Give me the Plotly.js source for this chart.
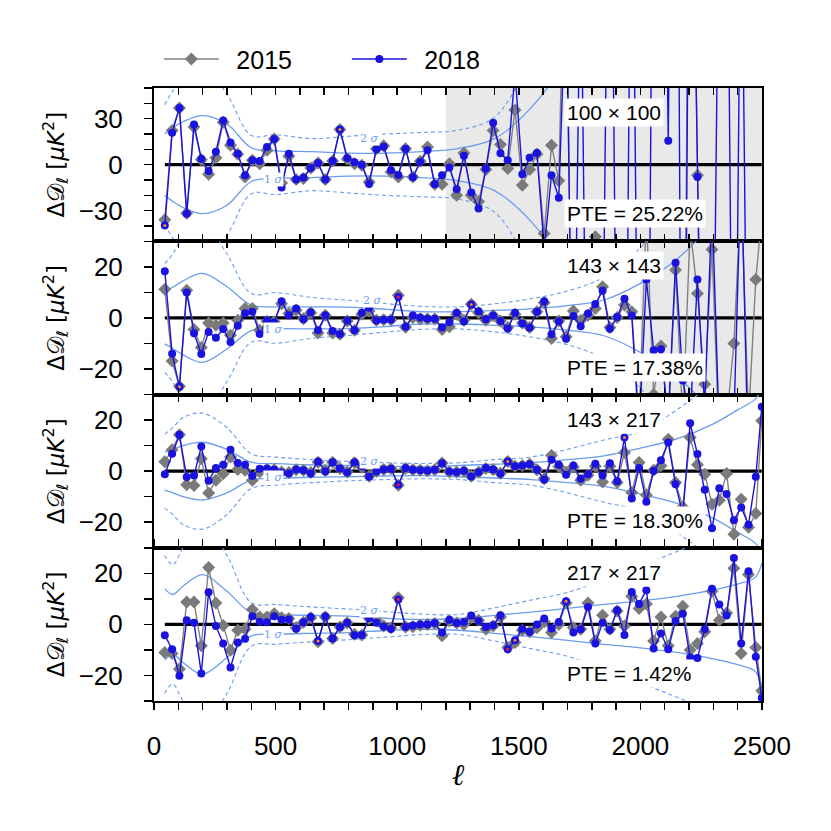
<!DOCTYPE html>
<html>
<head>
<meta charset="utf-8">
<script src="https://cdn.plot.ly/plotly-3.0.1.min.js"></script>
<style>html,body{margin:0;padding:0;background:#fff}#chart{width:831px;height:831px}</style>
</head>
<body>
<div id="chart"></div>
<script>
// multipole bin centres
const ell = [44.5,74.5,104.5,134.5,164.5,194.5,224.5,254.5,284.5,314.5,344.5,374.5,404.5,434.5,464.5,494.5,524.5,554.5,584.5,614.5,644.5,674.5,704.5,734.5,764.5,794.5,824.5,854.5,884.5,914.5,944.5,974.5,1004.5,1034.5,1064.5,1094.5,1124.5,1154.5,1184.5,1214.5,1244.5,1274.5,1304.5,1334.5,1364.5,1394.5,1424.5,1454.5,1484.5,1514.5,1544.5,1574.5,1604.5,1634.5,1664.5,1694.5,1724.5,1754.5,1784.5,1814.5,1844.5,1874.5,1904.5,1934.5,1964.5,1994.5,2024.5,2054.5,2084.5,2114.5,2144.5,2174.5,2204.5,2234.5,2264.5,2294.5,2324.5,2354.5,2384.5,2414.5,2444.5,2474.5,2499];

// 100 x 100
const d2018_100 = [-39.8,20.8,37,-32,26.2,3.9,-4.1,8.4,28.8,14.5,7.1,-6.9,2.8,2.4,11.5,16.7,-15,7.1,-9.7,-8.4,-2.2,1.1,-9.7,2.4,22.9,4.3,1.5,0,-12.6,10,11.7,-3.7,-6.7,10.4,-8.2,1.7,9.3,-12.8,-6.9,-1.9,-16,5.8,-18.2,-28.6,-2.6,27.3,7.4,2.8,60,-6.3,4.5,7.6,-55,-6.9,-21.6,120,-200,150,-250,-300,-150,300,-200,-300,250,-250,-400,300,400,15.6,500,-400,300,-8,-300,-250,200,250,-300,200,-250,-300,-200];
const d2015_100 = [-36,22.3,37,-31.8,24.5,3.2,-6.3,4.5,27.7,12.6,6.7,-8,2.8,0.6,9.3,16.7,-12,5.4,-9.7,-9,-2.2,1.1,-9.7,2.4,22.9,3.7,0.6,-0.4,-11.3,10.4,12.3,-4.8,-8,10.4,-8,2.2,11.5,-12.8,-12.8,0.6,-20,7.6,-20,-24,-3.2,22.3,13.2,-2.6,35.7,-13.4,-3.2,7,-45,12.6,-10.6,200,-300,-300,-200,-47,-200,-250,-300,-300,-300,-250,-300,-300,-300,-300,-300,-300,300,-7,-300,-300,-300,-300,-300,-300,-300,-300,-300];
// 143 x 143
const d2018_143 = [18.3,-14,-27,9.9,-6,-14.1,-5.5,-7.8,-4.4,-9.4,-3.1,1.8,2.4,-6.3,-1,-1.8,6.5,1,3.7,-0.5,2.2,-4.8,1,-5.1,-6.4,-1,-4.8,2,4,-1,-0.7,-0.7,8.2,-3.5,0.9,0.1,-0.3,-0.3,-3.8,-1.7,2,-1.4,5.2,2.6,-0.5,0.9,-1.2,-4.2,2,-2.2,-3.9,2.4,6.5,-6.4,-1.3,-8.2,0.7,-3.3,1.7,5.4,10.6,-4.3,0.3,7.5,0.9,-45,15,-12.7,-12.3,-40,21.6,-24.5,-40,15,-35,45,-45,-40,-40,60,-60,-50,-40];
const d2015_143 = [11.2,-16.9,-26.8,10.8,-4.6,-11.6,-2,-2.9,-2,-6.8,-0.9,3.7,3.7,-4.8,-1.3,-1.5,5.5,1.7,3,-0.3,2,-5.9,1,-5.9,-6.4,-1.2,-4.8,1.4,2.7,-0.9,-0.7,-0.7,8.9,-3.7,0.1,-0.4,-0.4,-0.4,-4.6,-3.5,1.4,-0.9,5.3,2,-0.9,0.9,-1.2,-3.8,1.4,-2,-3.8,2.4,5.9,-8.1,-1.2,-7.4,2.7,-1,1,3.7,12.2,-3.8,0.1,5,2.4,-40,40,-30,-11,-40,18.7,-40,35,9.5,-26,26.8,-50,-40,-10,50,-40,15,40];
// 143 x 217
const d2018_217 = [-1.2,6.8,14.2,-2.3,-1.7,9.6,-3.8,1.2,2.5,8.4,3.2,2.5,-1.9,0.9,1,0.5,-0.5,-0.9,0.6,0.3,-0.9,3.8,-0.1,3.5,1,-0.5,3.5,1.9,-2.2,-0.1,0.6,0.9,-5.3,1.2,0.5,0.3,0.1,0.5,3.1,-0.1,-0.4,0.1,-2.1,-0.4,1.2,0.6,-1,3.8,1.9,2.2,2.7,0.5,-3.4,4.5,2.5,-1.4,2.2,-3,-1.2,2.9,-1.7,3.1,-4,13.2,-10.7,1.2,-12,0.1,4.3,11.2,-5.1,-17,18.7,6.7,-7.3,-22.4,-6.7,-9,-19.2,-14.2,-21,-2.2,25.2];
const d2015_217 = [3.7,8.4,14.2,-5.3,-5.6,4.8,-8.6,-3.6,-1,5.5,0.6,0.3,-3.6,-0.3,0.5,0.5,-0.3,-0.5,0.5,0.3,-0.5,3.5,0.2,3.5,1,-0.3,3.3,1.5,-2,0,0.6,0.9,-5.5,1,0.5,0.3,0.1,0.5,3.2,-0.3,-0.3,0,-2,-0.4,1,0.5,-0.8,3.8,1.9,2.2,2.7,0.5,-3,6.1,1.8,-0.4,1.6,-3.6,-1.6,1.9,-4.3,1.9,-4.5,7.3,-8.4,3.4,-9.3,0.3,2.1,12.5,-4.5,-14,13.2,2.5,-1.2,-13,-11.4,-0.9,-24.7,-11,-22,-16.6,19.7];
// 217 x 217
const d2018_2217 = [-4.3,-9.7,-20.1,1.6,0.6,-19.2,12.6,-0.6,-7.5,-16.9,-7.1,-5.6,3.2,1,0.8,3.2,1.8,1.9,-1.7,0.8,2.9,-6.5,3.2,-5.5,-1,0.6,-4.3,-4.2,2.5,0.6,-0.8,-1.8,9.7,-1,-0.4,0,0,0.5,-3.2,1.8,0.5,0.9,3.5,1.3,-1,-0.3,3.6,-9.7,-6.2,-1.7,-3,0,2.3,-1.6,0.9,9.1,-3.2,-1.9,6.8,-7.5,0.6,-2.2,5.5,-4.2,12.7,8,13.4,-9.4,-3.6,-9.7,1.3,4.2,-13,-13.2,-1.9,13.9,7.8,3.5,26,-7.5,20.8,-12.7,-28.8];
const d2015_2217 = [-11,-11.4,-17.5,8.8,8.8,-8.4,22.3,8.4,-0.4,-10.1,-2.3,-1.9,5.8,2.9,2.9,4.2,2.6,2.3,-1.3,0.8,2.6,-6.8,2.9,-5.5,-1,0.6,-3.9,-4.2,2.3,1.6,-0.6,-1.3,10.4,-1,-0.9,-0.3,0,0.3,-4.5,1.3,0.5,0,2.6,1.6,-1.9,-0.6,2.9,-9.1,-7.1,-2.3,-2.9,-1.3,1,-3.2,0,8.4,-1.3,-1.9,8.4,-6.5,3.6,-1.9,5.2,-0.6,11,6.2,8,-6.5,2.9,-8.4,3.2,7.1,-10,-7.5,-2.9,13,1.6,4.5,22,-11.4,19.5,-9.1,-26];

// highlighted bins (index into ell)
const hiOrange = [[0,24],[2,42],[47,63],[21,48,55]];
const hiRed = [[],[32],[32],[32,47]];

// 1-sigma / 2-sigma envelopes
const sigEll = [44,77,120,200,300,400,500,650,800,950,1100,1250,1400,1550,1700,1850,2000,2150,2300,2400,2470,2500];
const sig1_100 = [20,24,28,32,26.5,11,9,8.5,7.5,7.5,8.5,10.5,17,37,70,120,190,290,420,550,640,700];
const sig2_100 = [39,48,56,64,46,19,19.5,17,18.5,20,21,22.5,31,70,130,220,350,500,700,850,950,1000];
const sig1_143 = [10.2,12,14.5,17.4,12.2,5,4.3,4.3,4.2,3.4,2.4,2.4,2.9,3.5,4.8,7,13.5,23,38,55,68,80];
const sig2_143 = [21.3,25,32,38,25,9.5,9.9,8,6.9,5.6,4.5,4.3,5.5,7.5,10.5,16,27.5,45,70,95,115,130];
const sig1_217 = [7.4,8.5,10,11.3,8.5,3.5,2.9,2.4,2.2,1.9,1.8,2.2,2.7,3.3,4.5,6,9,12.6,18.5,24,28,32];
const sig2_217 = [14.5,17,21,22.7,17,6.8,5.5,4.5,3.8,3.3,3,3.3,4.5,5.5,8.5,12.2,15.5,24,35,45,52,58];
const sig1_2217 = [14,11.7,15,19.5,13,4.5,3.9,3.5,3.2,2.4,1.9,2.3,3.5,4.8,6.3,7.8,9.2,11,13.5,15.8,18.2,24];
const sig2_2217 = [27,23.4,30,40,27,8.5,7.8,6.8,6,5,4,3.9,6.5,9.5,12.5,17.5,23,28.5,35,42,48,55];

const seriesNames = ['\u20022015', '\u20022018'];
const panelLabels = ['100 × 100','143 × 143','143 × 217','217 × 217'];
const pteLabels = ['PTE = 25.22%','PTE = 17.38%','PTE = 18.30%','PTE = 1.42%'];
const maskFrom = [1200, 2000, null, null];
const yTicks = [[-30,0,30],[-20,0,20],[-20,0,20],[-20,0,20]];
const yRanges = [[-50,50],[-30,30],[-30,30],[-30,30]];

const panels = [
  {b:d2018_100,g:d2015_100,s1:sig1_100,s2:sig2_100},
  {b:d2018_143,g:d2015_143,s1:sig1_143,s2:sig2_143},
  {b:d2018_217,g:d2015_217,s1:sig1_217,s2:sig2_217},
  {b:d2018_2217,g:d2015_2217,s1:sig1_2217,s2:sig2_2217}
];

const SIGC = '#6a9cf0';
const BLUE = '#1a12de';
const GREY = '#808080';
const FONT = 'Liberation Sans, Arial, sans-serif';

const traces = [];
const annotations = [];
const shapes = [];
const layout = {
  width: 831, height: 831,
  margin: {l:154, r:69, t:88, b:130},
  paper_bgcolor: '#fff', plot_bgcolor: '#fff',
  font: {family: FONT, color: '#000'},
  showlegend: true,
  legend: {orientation:'h', x:0.008, xanchor:'left', y:1.047, yanchor:'middle',
           font:{size:25, family:FONT}, bgcolor:'rgba(0,0,0,0)',
           entrywidth:118, entrywidthmode:'pixels', itemwidth:55},
};

panels.forEach((p, k) => {
  const n = k + 1;
  const xa = 'x' + (n === 1 ? '' : n);
  const ya = 'y' + (n === 1 ? '' : n);
  const sigLine = (vals, sign, dash, w) => ({
    x: sigEll, y: vals.map(v => sign * v), xaxis: xa, yaxis: ya, mode: 'lines',
    line: {color: SIGC, width: w, dash: dash, shape: 'spline', smoothing: 1},
    hoverinfo: 'skip', showlegend: false
  });
  traces.push(sigLine(p.s2, 1, '4px,3px', 1.1));
  traces.push(sigLine(p.s2, -1, '4px,3px', 1.1));
  traces.push(sigLine(p.s1, 1, 'solid', 1.3));
  traces.push(sigLine(p.s1, -1, 'solid', 1.3));
  // zero reference
  traces.push({x: ell, y: ell.map(() => 0), xaxis: xa, yaxis: ya, mode: 'lines',
    line: {color: '#000', width: 3.2}, hoverinfo: 'skip', showlegend: false});
  traces.push({x: ell, y: p.g, xaxis: xa, yaxis: ya, mode: 'lines+markers', name: seriesNames[0],
    line: {color: GREY, width: 1.4}, marker: {symbol: 'diamond', size: 10, color: '#7a7a7a'},
    showlegend: n === 1, legendrank: 1});
  traces.push({x: ell, y: p.b, xaxis: xa, yaxis: ya, mode: 'lines+markers', name: seriesNames[1],
    line: {color: BLUE, width: 1.4}, marker: {symbol: 'circle', size: 8, color: BLUE},
    showlegend: n === 1, legendrank: 2});
  const ho = hiOrange[k], hr = hiRed[k];
  traces.push({x: ho.map(i => ell[i]), y: ho.map(i => p.b[i]), xaxis: xa, yaxis: ya, mode: 'markers',
    marker: {size: 3, color: '#ff8a1a'}, showlegend: false, hoverinfo: 'skip'});
  if (hr.length) {
    traces.push({x: hr.map(i => ell[i]), y: hr.map(i => p.b[i]), xaxis: xa, yaxis: ya, mode: 'markers',
      marker: {size: 3, color: '#e8203c'}, showlegend: false, hoverinfo: 'skip'});
  }

  const dom = [(4 - n) * 0.25, (5 - n) * 0.25];
  const xaxis = {
    domain: [0, 1], anchor: ya, range: [0, 2500], showline: true, mirror: 'ticks',
    linecolor: '#000', linewidth: 2, ticks: n === 4 ? 'outside' : 'inside', ticklen: 7, tickwidth: 1.5,
    tickcolor: '#000', tick0: 0, dtick: 500,
    minor: {dtick: 100, tick0: 0, ticks: n === 4 ? 'outside' : 'inside', ticklen: 7, tickwidth: 1.5, tickcolor: '#000'},
    showgrid: false, zeroline: false, showticklabels: n === 4,
    tickfont: {size: 26, family: FONT}
  };
  if (n !== 1) xaxis.matches = 'x';
  if (n === 4) {
    xaxis.ticklabelstandoff = 14;
    xaxis.title = {text: '<i>ℓ</i>', font: {size: 30, family: 'DejaVu Serif, serif'}, standoff: 4};
  }
  layout['xaxis' + (n === 1 ? '' : n)] = xaxis;
  layout['yaxis' + (n === 1 ? '' : n)] = {
    domain: dom, anchor: xa, range: yRanges[k], showline: true, mirror: true,
    linecolor: '#000', linewidth: 2, ticks: 'outside', ticklen: 8, tickwidth: 1.5, tickcolor: '#000',
    tickmode: 'array', tickvals: yTicks[k],
    minor: {dtick: 10, tick0: 0, ticks: 'outside', ticklen: 8, tickwidth: 1.5, tickcolor: '#000'},
    showgrid: false, zeroline: false, tickfont: {size: 26, family: FONT},
    ticklabelstandoff: 16,
    title: {text: 'Δ𝒟<sub>ℓ</sub> [<i>μK</i><sup>2</sup>]', font: {size: 23, family: 'DejaVu Sans, sans-serif'}, standoff: 8}
  };
  if (maskFrom[k] !== null) {
    shapes.push({type: 'rect', xref: xa, yref: ya + ' domain', x0: maskFrom[k], x1: 2500, y0: 0, y1: 1,
      fillcolor: 'rgba(120,120,120,0.16)', line: {width: 0}, layer: 'below'});
  }
  const xd = xa + ' domain', yd = ya + ' domain';
  annotations.push({xref: xd, yref: yd, x: 0.675, y: 0.84, xanchor: 'left', yanchor: 'middle',
    text: panelLabels[k], showarrow: false, font: {size: 21, family: FONT}, bgcolor: '#fff', borderpad: 2});
  annotations.push({xref: xd, yref: yd, x: 0.675, y: 0.178, xanchor: 'left', yanchor: 'middle',
    text: pteLabels[k], showarrow: false, font: {size: 21, family: FONT}, bgcolor: '#fff', borderpad: 2});
});

// sigma contour labels (placement only)
const sigLabelPos = [
  [[888, 16.9], [490, -9.7]],
  [[897, 7.0], [490, -4.7]],
  [[888, 3.8], [490, -2.4]],
  [[888, 5.6], [490, -3.9]]
];
sigLabelPos.forEach((pp, k) => {
  const n = k + 1;
  const xa = 'x' + (n === 1 ? '' : n), ya = 'y' + (n === 1 ? '' : n);
  annotations.push({xref: xa, yref: ya, x: pp[0][0], y: pp[0][1], text: '2 <i>σ</i>', showarrow: false,
    font: {size: 11, color: SIGC, family: 'DejaVu Serif, serif'}, bgcolor: '#fff', borderpad: 0});
  annotations.push({xref: xa, yref: ya, x: pp[1][0], y: pp[1][1], text: '1 <i>σ</i>', showarrow: false,
    font: {size: 11, color: SIGC, family: 'DejaVu Serif, serif'}, bgcolor: '#fff', borderpad: 0});
});

layout.annotations = annotations;
layout.shapes = shapes;

Plotly.newPlot('chart', traces, layout, {staticPlot: true, displayModeBar: false});
</script>
</body>
</html>
